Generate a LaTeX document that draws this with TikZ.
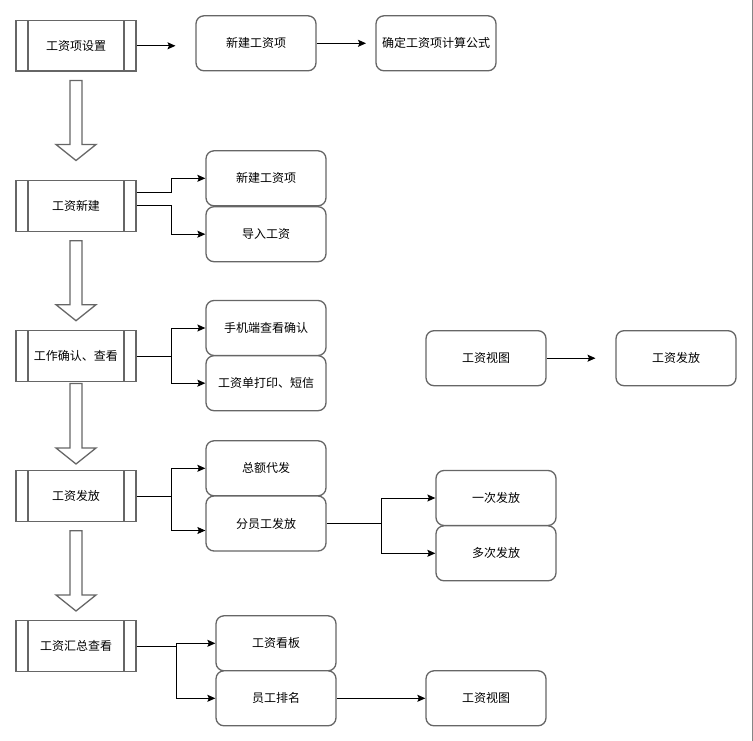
\documentclass[tikz,border=0pt]{standalone}
\usepackage{fontspec}
\setmainfont{Noto Sans CJK SC}
\usetikzlibrary{calc,arrows.meta}
\definecolor{boxgray}{RGB}{102,102,102}
\tikzset{
  every node/.style={font=\fontsize{12}{14}\selectfont, text=black},
  proc/.style={draw=boxgray, line width=1.3pt, fill=white, minimum width=120pt, minimum height=50.5pt, inner sep=0pt,
    path picture={\draw[boxgray, line width=1.3pt]
      ([xshift=12pt]path picture bounding box.north west) -- ([xshift=12pt]path picture bounding box.south west)
      ([xshift=-12pt]path picture bounding box.north east) -- ([xshift=-12pt]path picture bounding box.south east);}},
  rbox/.style={draw=boxgray, line width=1.3pt, fill=white, rounded corners=8pt, minimum width=120pt, minimum height=55pt, inner sep=0pt},
  conn/.style={draw=black, line width=1pt, -{Stealth[length=8pt,width=7pt,inset=1.5pt]}},
  plainline/.style={draw=black, line width=1pt},
  barrow/.style={draw=boxgray, line width=1.3pt, fill=white, line join=miter},
}
\newcommand{\myblockarrow}[2]{%
  \draw[barrow] (70,#1) -- (82,#1) -- (82,#2-16) -- (96,#2-16) -- (76,#2) -- (56,#2-16) -- (70,#2-16) -- cycle;}
\begin{document}
\begin{tikzpicture}[x=1pt,y=-1pt]
\useasboundingbox (0,0) rectangle (753,741);
\draw[boxgray!80, line width=1pt] (752.3,0) -- (752.3,741);

% left column
\node[proc] (p1) at (76,45.8) {工资项设置};
\node[proc] (p2) at (76,206) {工资新建};
\node[proc] (p3) at (76,356) {工作确认、查看};
\node[proc] (p4) at (76,496) {工资发放};
\node[proc] (p5) at (76,646) {工资汇总查看};

\myblockarrow{80.5}{160.5}
\myblockarrow{240.7}{320.7}
\myblockarrow{383.5}{464}
\myblockarrow{530.7}{611}

% row 1
\node[rbox] (r1) at (256,43.3) {新建工资项};
\node[rbox] (r2) at (436,43.3) {确定工资项计算公式};
\coordinate (r1in) at (175.5,45.8);
\coordinate (r2in) at (366,43.3);
\draw[conn] (p1.east) -- (r1in);
\draw[conn] (r1.east) -- (r2in);

% row 2
\node[rbox] (c21) at (266,178.3) {新建工资项};
\node[rbox] (c22) at (266,234.2) {导入工资};
\draw[conn] ($(p2.east)+(0,-13)$) -- ++(35,0) |- (c21.west);
\draw[conn] (p2.east) -- ++(35,0) |- (c22.west);

% row 3
\node[rbox] (c31) at (266,328) {手机端查看确认};
\node[rbox] (c32) at (266,383.2) {工资单打印、短信};
\draw[conn] (p3.east) -- ++(35,0) coordinate (e3) |- (c31.west);
\draw[conn] (e3) |- (c32.west);

% row 4
\node[rbox] (c41) at (266,468.3) {总额代发};
\node[rbox] (c42) at (266,523.5) {分员工发放};
\draw[conn] (p4.east) -- ++(35,0) coordinate (e4) |- (c41.west);
\draw[conn] (e4) |- ($(c42.west)+(0,7)$);

\node[rbox] (d1) at (496,498) {一次发放};
\node[rbox] (d2) at (496,553.3) {多次发放};
\draw[conn] (c42.east) -- (381,523.5) coordinate (e42) |- (d1.west);
\draw[conn] (e42) |- (d2.west);

% row 5
\node[rbox] (c51) at (276,643.3) {工资看板};
\node[rbox] (c52) at (276,698.3) {员工排名};
\draw[conn] (p5.east) -- ++(40,0) coordinate (e5) |- (c51.west);
\draw[conn] (e5) |- (c52.west);
\node[rbox] (v2) at (486,698.3) {工资视图};
\draw[conn] (c52.east) -- (v2.west);

% separate pair
\node[rbox] (v1) at (486,358.2) {工资视图};
\node[rbox] (f1) at (676,358.2) {工资发放};
\coordinate (f1in) at (595.5,358.2);
\draw[conn] (v1.east) -- (f1in);
\end{tikzpicture}
\end{document}
